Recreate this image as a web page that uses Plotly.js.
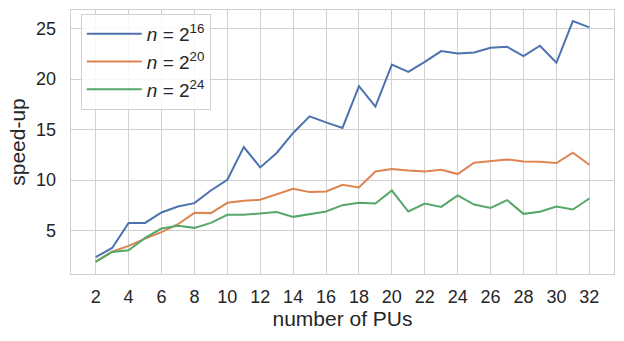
<!DOCTYPE html>
<html>
<head>
<meta charset="utf-8">
<script src="https://cdn.plot.ly/plotly-3.0.1.min.js"></script>
<style>
  html, body { margin: 0; padding: 0; background: #ffffff; }
  #chart { width: 624px; height: 341px; }
</style>
</head>
<body>
<div id="chart"></div>
<script>
// number of processing units
const pus = [2, 3, 4, 5, 6, 7, 8, 9, 10, 11, 12, 13, 14, 15, 16, 17,
             18, 19, 20, 21, 22, 23, 24, 25, 26, 27, 28, 29, 30, 31, 32];

// measured speed-up per problem size
const speedup16 = [2.36, 3.28, 5.76, 5.76, 6.79, 7.38, 7.72, 8.97, 10.03, 13.28, 11.26, 12.69, 14.67, 16.32, 15.72, 15.17,
                   19.3, 17.28, 21.45, 20.73, 21.72, 22.78, 22.55, 22.65, 23.11, 23.21, 22.28, 23.31, 21.62, 25.75, 25.13];
const speedup20 = [1.95, 2.91, 3.48, 4.21, 4.84, 5.63, 6.76, 6.73, 7.75, 7.95, 8.05, 8.58, 9.14, 8.81, 8.87, 9.54,
                   9.27, 10.86, 11.1, 10.96, 10.86, 11.03, 10.6, 11.72, 11.92, 12.05, 11.85, 11.82, 11.69, 12.72, 11.52];
const speedup24 = [1.9, 2.88, 3.05, 4.27, 5.2, 5.47, 5.27, 5.76, 6.56, 6.56, 6.69, 6.83, 6.36, 6.63, 6.89, 7.52,
                   7.75, 7.69, 8.97, 6.89, 7.68, 7.35, 8.48, 7.58, 7.25, 8.02, 6.66, 6.86, 7.38, 7.09, 8.18];

const seriesNames = ['<i>n</i> = 2<sup>16</sup>', '<i>n</i> = 2<sup>20</sup>', '<i>n</i> = 2<sup>24</sup>'];
const seriesColors = ['#4c72b0', '#dd8452', '#55a868'];
const xTicks = [2, 4, 6, 8, 10, 12, 14, 16, 18, 20, 22, 24, 26, 28, 30, 32];

const traces = [speedup16, speedup20, speedup24].map((ys, i) => ({
    x: pus,
    y: ys,
    type: 'scatter',
    mode: 'lines',
    name: seriesNames[i],
    line: { color: seriesColors[i], width: 2 }
}));

const axisStyle = {
    showgrid: true,
    gridcolor: '#d0d0d0',
    gridwidth: 1,
    showline: true,
    linecolor: '#d0d0d0',
    linewidth: 1.3,
    mirror: true,
    zeroline: false,
    ticks: 'outside',
    tickcolor: 'rgba(0,0,0,0)',
    tickfont: { family: 'Liberation Sans, Arial, sans-serif', size: 18, color: '#262626' }
};

const layout = {
    width: 624,
    height: 341,
    margin: { l: 71, r: 10, t: 10, b: 67 },
    paper_bgcolor: '#ffffff',
    plot_bgcolor: '#ffffff',
    font: { family: 'Liberation Sans, Arial, sans-serif', size: 18, color: '#262626' },
    xaxis: Object.assign({}, axisStyle, {
        range: [0.5, 33.5],
        tickvals: xTicks,
        ticklen: 6,
        title: { text: 'number of PUs', font: { size: 21 }, standoff: 2 }
    }),
    yaxis: Object.assign({}, axisStyle, {
        range: [0.7, 26.85],
        tickvals: [5, 10, 15, 20, 25],
        ticklen: 10,
        title: { text: 'speed-up', font: { size: 21 }, standoff: 4 }
    }),
    legend: {
        x: 0.018,
        y: 0.985,
        xanchor: 'left',
        yanchor: 'top',
        bgcolor: 'rgba(255,255,255,0.85)',
        bordercolor: '#d0d0d0',
        borderwidth: 1,
        itemwidth: 55,
        font: { size: 19, color: '#262626' },
        tracegroupgap: 0
    },
    showlegend: true
};

Plotly.newPlot('chart', traces, layout, { displayModeBar: false, staticPlot: true });
</script>
</body>
</html>
